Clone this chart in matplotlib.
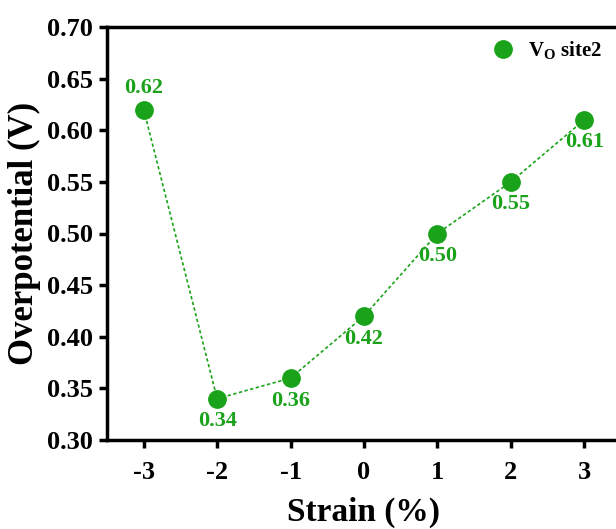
import matplotlib.pyplot as plt
from matplotlib.lines import Line2D

plt.rcParams['font.family'] = 'Liberation Serif'
plt.rcParams['font.weight'] = 'bold'
plt.rcParams['mathtext.fontset'] = 'custom'
plt.rcParams['mathtext.rm'] = 'Liberation Serif:bold'
plt.rcParams['mathtext.bf'] = 'Liberation Serif:bold'

# Datos
strain = [-3, -2, -1, 0, 1, 2, 3]
overpotential = [0.62, 0.34, 0.36, 0.42, 0.50, 0.55, 0.61]
labels = ["0.62", "0.34", "0.36", "0.42", "0.50", "0.55", "0.61"]
y_ticks = [0.30, 0.35, 0.40, 0.45, 0.50, 0.55, 0.60, 0.65, 0.70]

green = "#1aa31a"

fig = plt.figure(figsize=(6.16, 5.29), dpi=100)
# el eje derecho queda fuera de la imagen, como en la original
ax = fig.add_axes([107 / 616, (529 - 440) / 529, (621 - 107) / 616, (440 - 27) / 529])

ax.plot(strain, overpotential, linestyle=(0, (2, 1.5)), linewidth=1.2, color=green,
        marker="o", markersize=12.5, markerfacecolor=green, markeredgecolor=green)

for i, (x, y) in enumerate(zip(strain, overpotential)):
    if i == 0:
        ax.annotate(labels[i], (x, y), xytext=(0, 8), textcoords="offset points",
                    ha="center", va="bottom", color=green, fontsize=16, fontweight="bold")
    else:
        ax.annotate(labels[i], (x, y), xytext=(0, -9), textcoords="offset points",
                    ha="center", va="top", color=green, fontsize=16, fontweight="bold")

ax.set_xlim(-3.5, 3.5)
ax.set_ylim(0.30, 0.70)
ax.set_xticks(strain)
ax.set_xticklabels([str(s) for s in strain])
ax.set_yticks(y_ticks)
ax.set_yticklabels(["%.2f" % v for v in y_ticks])

for side in ["left", "bottom", "top", "right"]:
    ax.spines[side].set_linewidth(2.5)

ax.tick_params(axis="both", direction="out", width=2.5, length=6, labelsize=19)
ax.tick_params(axis="x", pad=9)
ax.tick_params(axis="y", pad=4)

ax.set_xlabel("Strain (%)", fontsize=24, fontweight="bold", labelpad=9)
ax.set_ylabel("Overpotential (V)", fontsize=25, fontweight="bold", labelpad=4)

handle = Line2D([], [], linestyle="none", marker="o", markersize=12.5, color=green)
ax.legend([handle], [r"V$_\mathrm{O}$ site2"], loc="upper right",
          bbox_to_anchor=(1.0, 1.015), frameon=False, fontsize=15,
          handletextpad=0.6, handlelength=1.2)

fig.savefig("out.png", dpi=100)
